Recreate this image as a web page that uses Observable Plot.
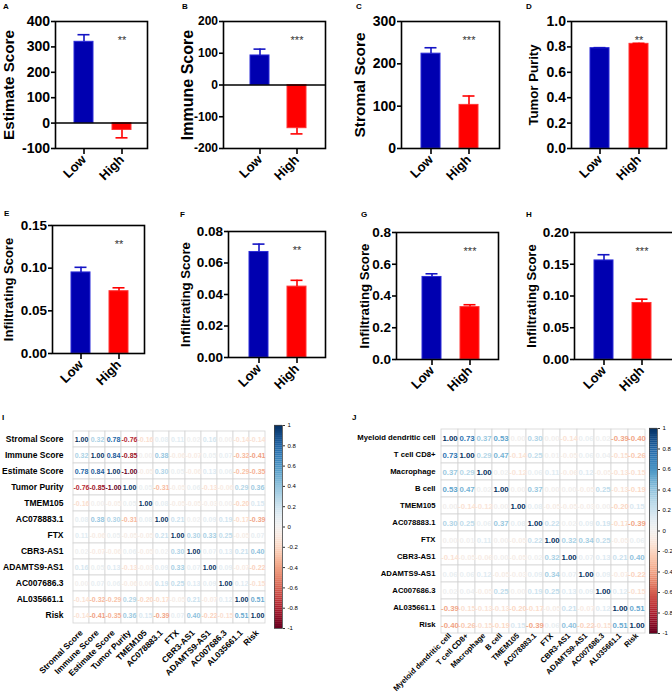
<!DOCTYPE html>
<html><head><meta charset="utf-8">
<script src="https://cdn.jsdelivr.net/npm/d3@7"></script>
<script src="https://cdn.jsdelivr.net/npm/@observablehq/plot@0.6"></script>
<style>
body{margin:0;background:#fff;}
#root{position:relative;width:672px;height:693px;overflow:hidden;font-family:"Liberation Sans",Arial,sans-serif;background:#fff;}
.lbl{position:absolute;font-weight:bold;font-size:8px;line-height:8px;color:#000;z-index:5;}
</style></head><body><div id="root"></div>
<script>
// ---------------- DATA ----------------
const groups = ["Low", "High"];
const barLabels = ["Estimate Score","Immune Score","Stromal Score","Tumor Purity","Infiltrating Score","Infiltrating Score","Infiltrating Score","Infiltrating Score"];
const estimateMean = [320, -27], estimateSem = [28, 31];
const immuneMean = [93, -136], immuneSem = [20, 18];
const stromalMean = [224, 103], stromalSem = [14, 21];
const purityMean = [0.790, 0.824], puritySem = [0.004, 0.004];
const infEMean = [0.095, 0.073], infESem = [0.006, 0.004];
const infFMean = [0.067, 0.045], infFSem = [0.005, 0.004];
const infGMean = [0.52, 0.33], infGSem = [0.02, 0.015];
const infHMean = [0.156, 0.089], infHSem = [0.009, 0.006];
const significance = ["**","***","***","**","**","**","***","***"];
const ticksA = [-100, 0, 100, 200, 300, 400];
const ticksB = [-200, -100, 0, 100, 200];
const ticksC = [0, 100, 200, 300];
const ticksD = [0, 0.2, 0.4, 0.6, 0.8, 1.0];
const ticksE = [0, 0.05, 0.10, 0.15];
const ticksF = [0, 0.02, 0.04, 0.06, 0.08];
const ticksG = [0, 0.2, 0.4, 0.6, 0.8];
const ticksH = [0, 0.05, 0.10, 0.15, 0.20];
const colorbarTicks = [-1, -0.8, -0.6, -0.4, -0.2, 0, 0.2, 0.4, 0.6, 0.8, 1];

const namesI = ["Stromal Score","Immune Score","Estimate Score","Tumor Purity","TMEM105","AC078883.1","FTX","CBR3-AS1","ADAMTS9-AS1","AC007686.3","AL035661.1","Risk"];
const corrI = [
  [1.00, 0.32, 0.78, -0.76, -0.16, 0.08, 0.11, 0.02, 0.16, 0.00, -0.14, -0.14],
  [0.32, 1.00, 0.84, -0.85, 0.00, 0.38, -0.06, -0.07, 0.05, 0.07, -0.32, -0.41],
  [0.78, 0.84, 1.00, -1.00, -0.05, 0.30, 0.05, -0.06, 0.13, 0.06, -0.29, -0.35],
  [-0.76, -0.85, -1.00, 1.00, 0.05, -0.31, -0.05, 0.06, -0.13, -0.06, 0.29, 0.36],
  [-0.16, 0.00, -0.05, 0.05, 1.00, 0.08, -0.05, -0.05, -0.03, 0.00, -0.20, 0.15],
  [0.08, 0.38, 0.30, -0.31, 0.08, 1.00, 0.21, 0.02, 0.09, 0.19, -0.17, -0.39],
  [0.11, -0.06, 0.05, -0.05, -0.05, 0.21, 1.00, 0.30, 0.33, 0.25, -0.05, 0.07],
  [0.02, -0.07, -0.06, 0.06, -0.05, 0.02, 0.30, 1.00, 0.07, 0.13, 0.21, 0.40],
  [0.16, 0.05, 0.13, -0.13, -0.03, 0.09, 0.33, 0.07, 1.00, 0.09, -0.07, -0.22],
  [0.00, 0.07, 0.06, -0.06, 0.00, 0.19, 0.25, 0.13, 0.09, 1.00, 0.12, -0.15],
  [-0.14, -0.32, -0.29, 0.29, -0.20, -0.17, -0.05, 0.21, -0.07, 0.12, 1.00, 0.51],
  [-0.14, -0.41, -0.35, 0.36, 0.15, -0.39, 0.07, 0.40, -0.22, -0.15, 0.51, 1.00]
];
const namesJ = ["Myeloid dendritic cell","T cell CD8+","Macrophage","B cell","TMEM105","AC078883.1","FTX","CBR3-AS1","ADAMTS9-AS1","AC007686.3","AL035661.1","Risk"];
const corrJ = [
  [1.00, 0.73, 0.37, 0.53, 0.00, 0.30, 0.00, -0.14, 0.06, 0.02, -0.39, -0.40],
  [0.73, 1.00, 0.29, 0.47, -0.14, 0.25, 0.01, -0.05, 0.06, 0.04, -0.15, -0.26],
  [0.37, 0.29, 1.00, 0.02, -0.12, 0.06, 0.11, -0.06, 0.12, -0.05, -0.13, -0.15],
  [0.53, 0.47, 0.02, 1.00, 0.00, 0.37, 0.00, 0.00, -0.05, 0.25, -0.13, -0.19],
  [0.00, -0.14, -0.12, 0.00, 1.00, 0.08, -0.05, -0.05, -0.03, 0.00, -0.20, 0.15],
  [0.30, 0.25, 0.06, 0.37, 0.08, 1.00, 0.22, 0.02, 0.09, 0.19, -0.17, -0.39],
  [0.00, 0.01, 0.11, 0.00, -0.05, 0.22, 1.00, 0.32, 0.34, 0.25, -0.05, 0.06],
  [-0.14, -0.05, -0.06, 0.00, -0.05, 0.02, 0.32, 1.00, 0.07, 0.13, 0.21, 0.40],
  [0.06, 0.06, 0.12, -0.05, -0.03, 0.09, 0.34, 0.07, 1.00, 0.09, -0.07, -0.22],
  [0.02, 0.04, -0.05, 0.25, 0.00, 0.19, 0.25, 0.13, 0.09, 1.00, 0.12, -0.15],
  [-0.39, -0.15, -0.13, -0.13, -0.20, -0.17, -0.05, 0.21, -0.07, 0.12, 1.00, 0.51],
  [-0.40, -0.26, -0.15, -0.19, 0.15, -0.39, 0.06, 0.40, -0.22, -0.15, 0.51, 1.00]
];

// ---------------- LAYOUT ----------------
const root = document.getElementById("root");
const FONT = "'Liberation Sans', Arial, sans-serif";
const barFill = {Low: "#0000b0", High: "#ff0000"};
const barEdge = {Low: "#2a2ad8", High: "#ff3434"};
const errColor = {Low: "#1414c4", High: "#ff0000"};
const plain = d => String(d);
const f1 = d3.format(".1f"), f2 = d3.format(".2f");

const panels = [
  {letter:"A", means:estimateMean, sems:estimateSem, ticks:ticksA, fmt:plain, zero:true,
   box:[55,147,21,148], c:[83,121.5], labelX:9, labelSize:15.2, tickSize:14, lx:3, ly:10},
  {letter:"B", means:immuneMean, sems:immuneSem, ticks:ticksB, fmt:plain, zero:true,
   box:[223,325,21,148], c:[258.8,296.7], labelX:187, labelSize:16, tickSize:12, lx:182, ly:10},
  {letter:"C", means:stromalMean, sems:stromalSem, ticks:ticksC, fmt:plain, zero:false,
   box:[401,499,21,148], c:[430.5,469], labelX:360, labelSize:15.5, tickSize:14, lx:356, ly:10},
  {letter:"D", means:purityMean, sems:puritySem, ticks:ticksD, fmt:f1, zero:false,
   box:[571,666,21,148], c:[599,638.5], labelX:533, labelSize:13.2, tickSize:14, lx:526, ly:10},
  {letter:"E", means:infEMean, sems:infESem, ticks:ticksE, fmt:f2, zero:false,
   box:[52,144,225,353], c:[80.5,119], labelX:8, labelSize:13, tickSize:13.5, lx:4, ly:217},
  {letter:"F", means:infFMean, sems:infFSem, ticks:ticksF, fmt:f2, zero:false,
   box:[228,325,231,357], c:[258,296.5], labelX:185, labelSize:13.2, tickSize:13.5, lx:180, ly:218},
  {letter:"G", means:infGMean, sems:infGSem, ticks:ticksG, fmt:f1, zero:false,
   box:[396,498,232,359], c:[431,469.5], labelX:364, labelSize:13.2, tickSize:13.5, lx:361, ly:218},
  {letter:"H", means:infHMean, sems:infHSem, ticks:ticksH, fmt:f2, zero:false,
   box:[574,678,232,359], c:[603,642], labelX:531, labelSize:13, tickSize:13.5, lx:526, ly:218}
];

function place(svg, left, top) {
  svg.style.position = "absolute";
  svg.style.left = left + "px";
  svg.style.top = top + "px";
  svg.style.maxWidth = "none";
  root.appendChild(svg);
}
function letter(t, x, baseline) {
  const d = document.createElement("div");
  d.className = "lbl"; d.textContent = t;
  d.style.left = x + "px"; d.style.top = (baseline - 6.8) + "px";
  root.appendChild(d);
}

panels.forEach((p, i) => {
  const [x0, x1, y0, y1] = p.box;
  const mL = 60, mR = 12, mT = 15, mB = 60;
  const W = x1 - x0, H = y1 - y0;
  const bw = 19.5, step = p.c[1] - p.c[0];
  const outer = W - step - bw;
  const data = groups.map((g, k) => ({
    group: g, mean: p.means[k],
    end: p.means[k] + Math.sign(p.means[k]) * p.sems[k]
  }));
  const svg = Plot.plot({
    width: W + mL + mR, height: H + mT + mB,
    marginLeft: mL, marginRight: mR, marginTop: mT, marginBottom: mB,
    style: {background: "transparent", overflow: "visible", fontFamily: FONT, color: "#000"},
    x: {domain: groups, paddingInner: 1 - bw / step, paddingOuter: outer / (2 * step),
        align: (p.c[0] - x0 - bw / 2) / outer, axis: null},
    y: {domain: [p.ticks[0], p.ticks[p.ticks.length - 1]], axis: null},
    marks: [
      Plot.barY(data, {x: "group", y: "mean", fill: d => barFill[d.group], stroke: d => barEdge[d.group], strokeWidth: 1}),
      Plot.ruleX(data, {x: "group", y1: "mean", y2: "end", stroke: d => errColor[d.group], strokeWidth: 1.6}),
      Plot.tickY(data, {x: "group", y: "end", stroke: d => errColor[d.group], strokeWidth: 1.6, inset: 3.5}),
      p.zero ? Plot.ruleY([0], {strokeWidth: 1.5}) : null,
      Plot.frame({strokeWidth: 1.6}),
      Plot.axisY({ticks: p.ticks, tickFormat: p.fmt, tickSize: 4, tickPadding: 1.5, strokeWidth: 1.6,
                  fontSize: p.tickSize, fontWeight: "bold", label: null}),
      Plot.axisX({tickSize: 6, tickPadding: 3, tickRotate: -45, strokeWidth: 1.6,
                  fontSize: 13, fontWeight: "bold", label: null}),
      Plot.text([barLabels[i]], {text: d => d, frameAnchor: "left", textAnchor: "middle", lineAnchor: "middle",
                  dx: p.labelX - x0, rotate: -90, fontSize: p.labelSize, fontWeight: "bold"}),
      Plot.text([{group: "High", s: significance[i]}], {x: "group", text: "s", frameAnchor: "top",
                  dy: 14.5, fontSize: 11, fill: "#333"})
    ]
  });
  place(svg, x0 - mL, y0 - mT);
  letter(p.letter, p.lx, p.ly);
});

// ---------------- HEATMAPS ----------------
const colorOpts = {type: "diverging", scheme: "rdbu", domain: [-1, 1], pivot: 0};

function heatmap(names, matrix, grid, fontSize, labelSize, colPad) {
  const [x0, x1, y0, y1] = grid;
  const mL = 110, mR = 5, mT = 5, mB = 90;
  const data = [];
  names.forEach((r, i) => names.forEach((c, j) => data.push({row: r, col: c, v: matrix[i][j]})));
  const svg = Plot.plot({
    width: (x1 - x0) + mL + mR, height: (y1 - y0) + mT + mB,
    marginLeft: mL, marginRight: mR, marginTop: mT, marginBottom: mB,
    style: {background: "transparent", overflow: "visible", fontFamily: FONT, color: "#000"},
    x: {domain: names, padding: 0, axis: null},
    y: {domain: names, padding: 0, axis: null},
    color: colorOpts,
    marks: [
      Plot.cell(data, {x: "col", y: "row", fill: "white", stroke: "#d4d4d4", strokeWidth: 0.8}),
      Plot.text(data, {x: "col", y: "row", text: d => d.v.toFixed(2), fill: "v",
                       fontSize: fontSize, fontWeight: "bold"}),
      Plot.axisY({tickSize: 0, tickPadding: 4, fontSize: labelSize, fontWeight: "bold", label: null}),
      Plot.axisX({anchor: "bottom", tickSize: 0, tickPadding: colPad, tickRotate: -45,
                  fontSize: labelSize, fontWeight: "bold", label: null})
    ]
  });
  place(svg, x0 - mL, y0 - mT);
}

function colorbar(box) {
  const [x0, x1, y0, y1] = box;
  const mL = 2, mR = 25, mT = 5, mB = 5;
  const stops = d3.range(-1, 1, 0.02);
  const svg = Plot.plot({
    width: (x1 - x0) + mL + mR, height: (y1 - y0) + mT + mB,
    marginLeft: mL, marginRight: mR, marginTop: mT, marginBottom: mB,
    style: {background: "transparent", overflow: "visible", fontFamily: FONT, color: "#000"},
    x: {domain: [0, 1], axis: null},
    y: {domain: [-1, 1], axis: null},
    color: colorOpts,
    marks: [
      Plot.rect(stops, {x1: 0, x2: 1, y1: d => d, y2: d => d + 0.021, fill: d => d + 0.01}),
      Plot.frame({stroke: "#444", strokeWidth: 0.8}),
      Plot.axisY({anchor: "right", ticks: colorbarTicks, tickFormat: d => String(+d.toFixed(1)),
                  tickSize: 2, tickPadding: 3, fontSize: 6, stroke: "#333", label: null})
    ]
  });
  place(svg, x0 - mL, y0 - mT);
}

heatmap(namesI, corrI, [67, 270, 425, 628], 7, 8.5, 3);
colorbar([274, 282, 425, 628]);
heatmap(namesJ, corrJ, [439, 646, 428, 633], 7.8, 7.7, 1);
colorbar([649, 657, 428, 633]);
letter("I", 2, 421);
letter("J", 352, 421);
</script></body></html>
